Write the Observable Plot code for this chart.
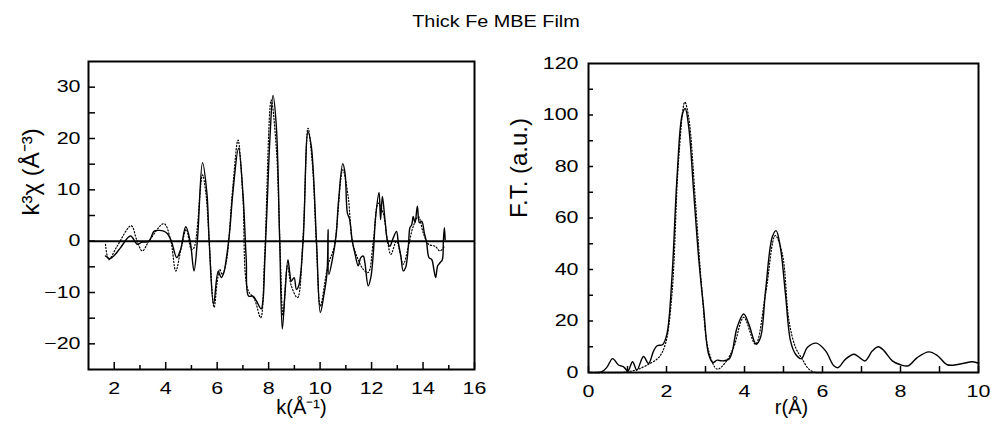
<!DOCTYPE html>
<html><head><meta charset="utf-8">
<script src="https://cdn.jsdelivr.net/npm/d3@7"></script>
<script src="https://cdn.jsdelivr.net/npm/@observablehq/plot@0.6"></script>
<style>
body{margin:0;background:#fff;}
#wrap{position:relative;width:992px;height:427px;background:#fff;font-family:"Liberation Sans",Arial,sans-serif;}
#title{position:absolute;left:0;width:992px;top:13px;text-align:center;font-size:16px;color:#000;transform:scaleX(1.24);transform-origin:center;}
#left,#right{position:absolute;top:0;}
#left{left:0;}#right{left:496px;}
</style></head><body>
<div id="wrap"><div id="title">Thick Fe MBE Film</div><div id="left"></div><div id="right"></div></div>
<script>
// Left panel: k^3 chi(k), experiment (solid) and fit (dotted)
const kExp = [1.66,1.83,1.98,2.24,2.63,2.9,3.08,3.35,3.54,3.7,3.9,4.06,4.22,4.43,4.58,4.78,4.95,5.1,5.23,5.43,5.6,5.69,5.86,6.04,6.16,6.26,6.35,6.48,6.61,6.83,7.0,7.13,7.22,7.39,7.52,7.71,7.78,7.85,7.95,8.05,8.17,8.3,8.43,8.53,8.62,8.75,8.82,8.88,8.99,9.08,9.17,9.34,9.53,9.66,9.86,10.01,10.14,10.27,10.31,10.34,10.49,10.62,10.71,10.88,10.97,11.06,11.15,11.25,11.35,11.48,11.58,11.68,11.74,11.87,11.97,12.06,12.16,12.29,12.35,12.42,12.52,12.62,12.71,12.84,12.97,13.04,13.14,13.23,13.32,13.43,13.49,13.56,13.62,13.69,13.78,13.86,13.95,14.05,14.14,14.23,14.34,14.42,14.49,14.57,14.66,14.75,14.79,14.83,14.86];
const chiExp = [-2.9,-3.4,-2.9,-1.3,1.0,-0.6,-0.2,0,1.9,2.1,2.0,1.5,0,-3.2,-1.6,2.8,0,-5.8,0,15.3,9.4,0,-12.3,-5.9,-7.1,-6.1,-3.6,1.6,9.4,18.1,9.4,-3.6,-10.7,-10.7,-11.6,-13.2,-11.6,-4,8,20,28.4,22.3,0,-17.1,-11.3,-3.6,-6.1,-7.8,-7.1,-9.4,-8.7,0,21.3,18.4,0,-13.9,-10.7,-6.1,2.3,-6.5,-3.2,1.0,7.4,15.1,13.2,5.5,4.2,0,-2.3,-4.8,-3.2,-2.9,-4.2,-8.7,-7.1,-2.9,4.8,9.5,4.2,8.7,4.2,0,-1.0,0.6,1.9,-0.3,-2.9,-5.8,-5.2,-1.0,2.6,3.2,4.8,3.6,6.8,3.6,3.9,1.6,-0.3,-3.2,-3.6,-5.5,-7.1,-4.8,-4.2,-3.6,0,2.6,0.3];
const kFit = [1.66,1.79,2.11,2.66,2.87,3.09,3.35,3.93,4.19,4.39,4.58,4.8,5.0,5.1,5.43,5.56,5.88,6.0,6.1,6.2,6.35,6.61,6.81,7.0,7.19,7.45,7.69,7.84,8.1,8.3,8.43,8.56,8.73,8.88,9.12,9.34,9.53,9.7,9.86,10.01,10.3,10.55,10.88,11.09,11.25,11.48,11.68,11.87,12.06,12.26,12.45,12.62,12.75,12.97,13.23,13.43,13.62,13.82,14.01,14.21,14.47,14.66,14.83];
const chiFit = [-0.6,-3.6,-1.0,3.0,0.3,-1.9,0,3.4,0.3,-5.8,-1.9,2.3,-1.6,-1.3,12.9,9.4,-12.9,-8,-5.5,-6.5,-4.2,10.7,19.7,8.7,-9.4,-11.3,-14.9,-3.6,27.5,18,1,-14.5,-4.8,-8.7,-11,1.0,22.0,15,-1.0,-12.6,-4.8,-1.0,13.9,8.7,0,-3.6,-5.5,-6.1,-0.3,7.4,5.5,0,-2.6,0,-4.5,-1.0,2.9,4.8,1.6,-0.6,-1.0,-1.9,-1.0];
const kTicksMajor = [2,4,6,8,10,12,14,16];
const kTicksMinor = [3,5,7,9,11,13,15];
const chiTicksMajor = [-20,-10,0,10,20,30];
const chiTicksAll = [-20,-15,-10,-5,0,5,10,15,20,25,30];
const leftXLabel = "k(Å⁻¹)";
const leftYLabel = "k³χ (Å⁻³)";

// Right panel: Fourier transform magnitude vs r
const rExp = [0,0.34,0.47,0.62,0.77,0.9,1.01,1.13,1.24,1.41,1.54,1.67,1.76,1.9,2.01,2.14,2.27,2.4,2.48,2.57,2.7,2.83,2.95,3.08,3.19,3.3,3.42,3.6,3.68,3.81,3.98,4.11,4.3,4.41,4.54,4.71,4.81,4.92,5.05,5.18,5.31,5.46,5.61,5.84,6.08,6.29,6.4,6.59,6.81,6.95,7.09,7.28,7.43,7.58,7.79,8.0,8.2,8.43,8.73,8.95,9.2,9.5,9.85,10.0];
const ftExp = [0,0.3,2,5.4,2.9,2.2,0.6,4.2,0.9,6.2,3.5,8.4,10.4,10.8,14.9,37,75.9,99.9,102.5,95.3,69.4,43.5,25.3,7.1,3.9,4.8,4.5,5.2,7.8,17.5,22.7,18.8,11,13.6,31.8,52.5,55.1,48.6,30.5,12.3,7.1,5.4,9.7,11.4,8.4,2.6,1.9,5.2,7.1,5.8,4.5,8.4,10,8.4,4.5,3,2.6,5.8,8,6.5,3,3.2,4.2,3.6];
const rFit = [0,0.86,1.11,1.28,1.54,1.8,1.97,2.14,2.31,2.47,2.57,2.74,2.91,3.08,3.3,3.51,3.72,3.98,4.28,4.54,4.79,4.97,5.14,5.31,5.48,5.65,5.82,6.0];
const ftFit = [0,0,0.6,1.3,3.2,5.8,11,30.5,82.4,105,99,66.8,31.8,8.4,1.3,3.9,9.7,21.4,11,30.5,53.2,46,20.1,9.7,5.2,1.3,0,0];
const rTicksMajor = [0,2,4,6,8,10];
const rTicksMinor = [1,3,5,7,9];
const ftTicksMajor = [0,20,40,60,80,100,120];
const ftTicksAll = [10,20,30,40,50,60,70,80,90,100,110];
const rightXLabel = "r(Å)";
const rightYLabel = "F.T. (a.u.)";

const zip = (xs, ys) => xs.map((x, i) => ({x, y: ys[i]}));
const style = {fontFamily: '"Liberation Sans", Arial, sans-serif', fontSize: "16.5px", color: "#000", background: "transparent", overflow: "visible"};

// widen tick labels horizontally (reference type is wide)
function stretchTicks(svg, sx) {
  svg.querySelectorAll('g[aria-label$="tick label"] text').forEach(t => {
    const tr = t.getAttribute("transform");
    if (tr) t.setAttribute("transform", tr + ` scale(${sx},1)`);
  });
  return svg;
}

const left = Plot.plot({
  width: 496, height: 427,
  marginLeft: 88, marginRight: 22, marginTop: 61, marginBottom: 58,
  style,
  x: {domain: [1, 16]},
  y: {domain: [-25, 35]},
  marks: [
    Plot.ruleY([0], {stroke: "#000", strokeWidth: 2}),
    Plot.line(zip(kFit, chiFit), {x: "x", y: "y", curve: "catmull-rom", stroke: "#000", strokeWidth: 1.2, strokeDasharray: "1.2,2"}),
    Plot.line(zip(kExp, chiExp), {x: "x", y: "y", curve: "catmull-rom", stroke: "#000", strokeWidth: 1.4}),
    Plot.axisY({ticks: chiTicksMajor, tickSize: 0, tickPadding: 8, label: null}),
    Plot.axisY({ticks: chiTicksAll, tickSize: -7, tickFormat: () => "", label: null, strokeWidth: 1.5}),
    Plot.axisX({ticks: kTicksMajor, tickSize: 0, tickPadding: 13, label: null}),
    Plot.axisX({ticks: kTicksMajor, tickSize: -7, tickFormat: () => "", label: null, strokeWidth: 1.5}),
    Plot.axisX({ticks: kTicksMinor, tickSize: -4, tickFormat: () => "", label: null, strokeWidth: 1.5}),
    Plot.text([leftYLabel], {text: d => d, frameAnchor: "left", rotate: -90, dx: -57, fontSize: 24, fill: "#000"}),
    Plot.text([leftXLabel], {text: d => d, frameAnchor: "bottom", dx: 20, dy: 44, fontSize: 20, fill: "#000"}),
    Plot.frame({stroke: "#000", strokeWidth: 2})
  ]
});
document.getElementById("left").appendChild(stretchTicks(left, 1.3));

const right = Plot.plot({
  width: 496, height: 427,
  marginLeft: 92, marginRight: 14, marginTop: 63, marginBottom: 55,
  style,
  x: {domain: [0, 10]},
  y: {domain: [0, 120]},
  marks: [
    Plot.line(zip(rFit, ftFit), {x: "x", y: "y", curve: "catmull-rom", stroke: "#000", strokeWidth: 1.2, strokeDasharray: "1.2,2"}),
    Plot.line(zip(rExp, ftExp), {x: "x", y: "y", curve: "catmull-rom", stroke: "#000", strokeWidth: 1.4}),
    Plot.axisY({ticks: ftTicksMajor, tickSize: 0, tickPadding: 10, label: null}),
    Plot.axisY({ticks: ftTicksAll, tickSize: -5, tickFormat: () => "", label: null, strokeWidth: 1.5}),
    Plot.axisX({ticks: rTicksMajor, tickSize: 0, tickPadding: 13, label: null}),
    Plot.axisX({ticks: rTicksMajor.concat(rTicksMinor), tickSize: -6, tickFormat: () => "", label: null, strokeWidth: 1.5}),
    Plot.text([rightYLabel], {text: d => d, frameAnchor: "left", rotate: -90, dx: -69, fontSize: 24, fill: "#000"}),
    Plot.text([rightXLabel], {text: d => d, frameAnchor: "bottom", dx: 8, dy: 41, fontSize: 20, fill: "#000"}),
    Plot.frame({stroke: "#000", strokeWidth: 2})
  ]
});
document.getElementById("right").appendChild(stretchTicks(right, 1.3));
</script>
</body></html>
